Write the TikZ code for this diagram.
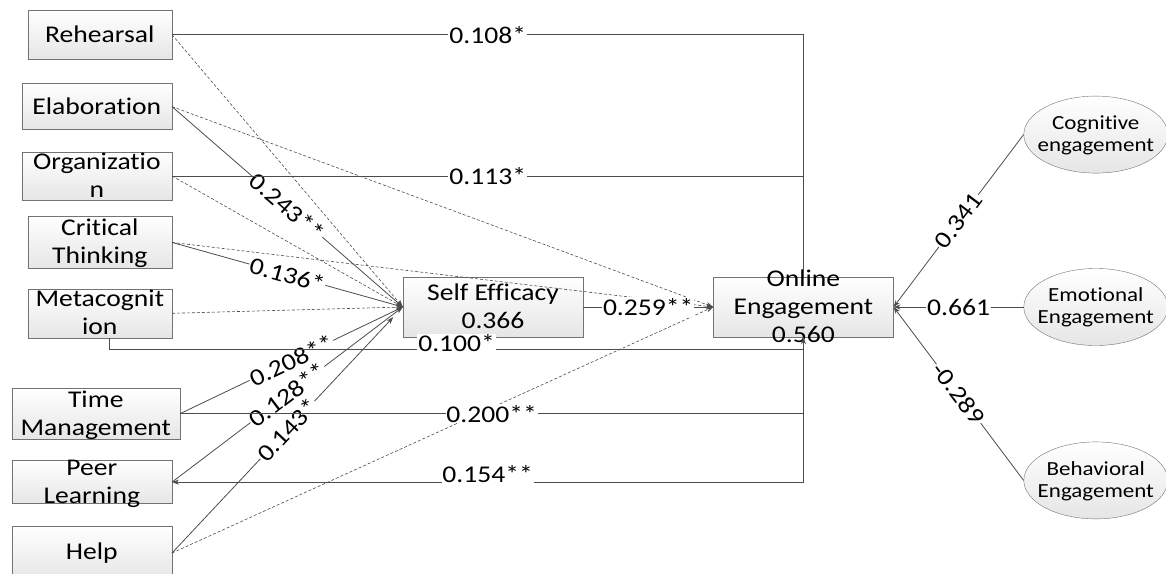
\documentclass[tikz,border=0pt]{standalone}
\usepackage{fontspec}
\setmainfont{Carlito}[FakeStretch=1.15, Ligatures=NoCommon]
\usepackage{tikz}
\usetikzlibrary{arrows.meta, positioning, shapes, calc}
\newcommand{\stk}[1]{\makebox[0pt]{\smash{\raisebox{-.33em}{\begin{tabular}{@{}c@{}}#1\end{tabular}}}}}

\begin{document}
\begin{tikzpicture}[>={Stealth[length=7pt,width=5pt]}, x=1pt, y=1pt, node distance=20pt, every node/.style={font=\fontsize{24}{28}\selectfont}]
            \tikzset{vbox/.style={draw=black!55, top color=white, bottom color=black!10, inner sep=0pt, minimum height=49pt},
                latent/.style={ellipse, draw=black!55, top color=white, bottom color=black!10, inner sep=0pt, minimum width=144pt, minimum height=77pt, font=\fontsize{20}{22}\selectfont},
                lab/.style={fill=white, inner sep=1pt},
                eff/.style={draw=black!70, line width=0.8pt},
                ns/.style={draw=black!70, line width=0.6pt, dash pattern=on 3pt off 2pt}}
            \useasboundingbox (0,0) rectangle (1166,-573);
            % strategies
            \node[vbox, minimum width=144pt, anchor=north east] (reh) at (172,-10) {Rehearsal};
            \node[vbox, minimum width=150pt, minimum height=46pt, below=24pt of reh.south east, anchor=north east] (ela) {Elaboration};
            \node[vbox, minimum width=150pt, minimum height=48pt, below=22pt of ela.south east, anchor=north east] (org) {\stk{Organizatio\\n}};
            \node[vbox, minimum width=144pt, minimum height=52pt, below=16pt of org.south east, anchor=north east] (crit) {\stk{Critical\\Thinking}};
            \node[vbox, minimum width=144pt, below=20pt of crit.south east, anchor=north east] (meta) {\stk{Metacognit\\ion}};
            \node[vbox, minimum width=168pt, minimum height=51pt, below=50pt of meta.south east, anchor=north east, xshift=8pt] (time) {\stk{Time\\Management}};
            \node[vbox, minimum width=160pt, minimum height=43pt, below=21pt of time.south east, anchor=north east, xshift=-8pt] (peer) {\stk{Peer\\Learning}};
            \node[vbox, minimum width=160pt, minimum height=54pt, below=22pt of peer.south east, anchor=north east] (help) {Help};
            % mediator and outcome
            \node[vbox, minimum width=180pt, minimum height=60pt] (se) at (493,-307) {\stk{Self Efficacy\\0.366}};
            \node[vbox, minimum width=180pt, minimum height=60pt, right=130pt of se] (oe) {\stk{Online\\Engagement\\0.560}};
            % engagement dimensions
            \node[latent, right=130pt of oe] (emo) {\stk{Emotional\\Engagement}};
            \node[latent, above=95pt of emo] (cog) {\stk{Cognitive\\engagement}};
            \node[latent, below=96pt of emo] (beh) {\stk{Behavioral\\Engagement}};
            % non-significant paths
            \draw[ns, ->] (reh.east) -- (se.west);
            \draw[ns, ->] (org.east) -- (se.west);
            \draw[ns, ->] (meta.east) -- (se.west);
            \draw[ns, ->] (ela.east) -- (oe.west);
            \draw[ns, ->] (crit.east) -- (oe.west);
            \draw[ns, ->] (help.east) -- (oe.west);
            % paths to self efficacy
            \draw[eff, ->] (ela.east) -- node[lab, sloped]{0.243**} (se.west);
            \draw[eff, ->] (crit.east) -- node[lab, sloped]{0.136*} (se.west);
            \draw[eff, ->] (time.east) -- node[lab, sloped]{0.208**} (se.west);
            \draw[eff, ->] (peer.east) -- node[lab, sloped]{0.128**} (se.west);
            \draw[eff, ->, shorten >=14pt] (help.east) -- node[lab, sloped]{0.143*} (se.west);
            % direct paths to online engagement
            \draw[eff] (reh.east) -- node[lab]{0.108*} (reh.east -| oe.north) -- (oe.north);
            \draw[eff] (org.east) -- node[lab]{0.113*} (org.east -| oe.north);
            \draw[eff] (time.east) -- node[lab]{0.200**} (time.east -| oe.south);
            \draw[eff, ->] ([xshift=10pt]meta.south) |- node[lab, pos=0.75, yshift=6pt]{0.100*} ([yshift=-12pt]oe.south) -- (oe.south);
            \draw[eff, ->] (oe.south) |- node[lab, pos=0.75, yshift=8pt]{0.154**} (peer.east);
            \draw[eff, ->] (se) -- node[lab]{0.259**} (oe);
            % loadings
            \draw[eff, ->] (cog.west) -- node[lab, sloped]{0.341} (oe.east);
            \draw[eff, ->] (emo.west) -- node[lab]{0.661} (oe.east);
            \draw[eff, ->] (beh.west) -- node[lab, sloped]{-0.289} (oe.east);
        \end{tikzpicture}
\end{document}
